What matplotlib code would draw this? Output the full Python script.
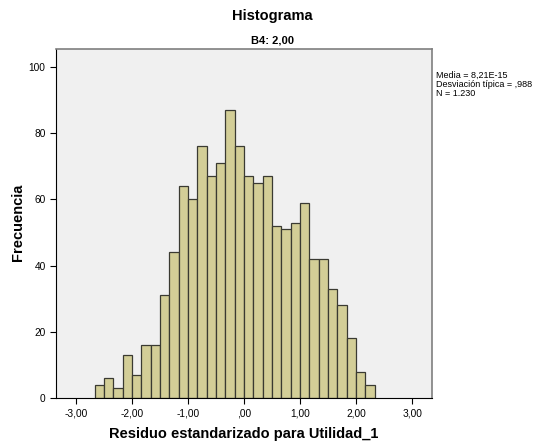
import numpy as np
import matplotlib
matplotlib.use('Agg')
import matplotlib.pyplot as plt

plt.rcParams['font.family'] = ['Liberation Sans', 'DejaVu Sans']

# bin counts (30 bins of width 1/6 starting at -8/3)
counts = [4, 6, 3, 13, 7, 16, 16, 31, 44, 64, 60, 76, 67, 71, 87,
          76, 67, 65, 67, 52, 51, 53, 59, 42, 42, 33, 28, 18, 8, 4]
bin_start = -8 / 3
bin_width = 1 / 6
edges = bin_start + bin_width * np.arange(len(counts) + 1)

x_ticks = [-3, -2, -1, 0, 1, 2, 3]
x_labels = ['-3,00', '-2,00', '-1,00', ',00', '1,00', '2,00', '3,00']
y_ticks = [0, 20, 40, 60, 80, 100]

stats_text = 'Media = 8,21E-15\nDesviación típica = ,988\nN = 1.230'

fig = plt.figure(figsize=(5.45, 4.45), dpi=100)
ax = fig.add_axes([0.1028, 0.1056, 0.690, 0.784])
ax.set_facecolor('#F0F0F0')

ax.bar(edges[:-1], counts, width=bin_width, align='edge',
       color='#D3CE97', edgecolor='#3A3A32', linewidth=0.9)

ax.set_xlim(-3.357, 3.357)
ax.set_ylim(0, 105.4)
ax.set_xticks(x_ticks)
ax.set_xticklabels(x_labels)
ax.set_yticks(y_ticks)
ax.tick_params(axis='both', labelsize=7.3, length=4, width=0.8, color='black')

for side in ['top', 'right']:
    ax.spines[side].set_color('#7F7F7F')
    ax.spines[side].set_linewidth(1.2)
ax.spines['left'].set_color('black')
ax.spines['bottom'].set_color('black')

ax.set_xlabel('Residuo estandarizado para Utilidad_1', fontsize=10.5,
              fontweight='bold', labelpad=6)

# y label placed on the figure so it is not clipped
fig.text(18 / 545, 0.5, 'Frecuencia', ha='center', va='center',
         rotation=90, fontsize=10.5, fontweight='bold')

fig.text(0.5, 0.965, 'Histograma', ha='center', va='center',
         fontsize=10.5, fontweight='bold')
fig.text(0.5, 0.91, 'B4: 2,00', ha='center', va='center',
         fontsize=8, fontweight='bold')
fig.text(0.80, 0.84, stats_text, ha='left', va='top', fontsize=6.5,
         linespacing=1.0)

fig.savefig('out.png', dpi=100)
